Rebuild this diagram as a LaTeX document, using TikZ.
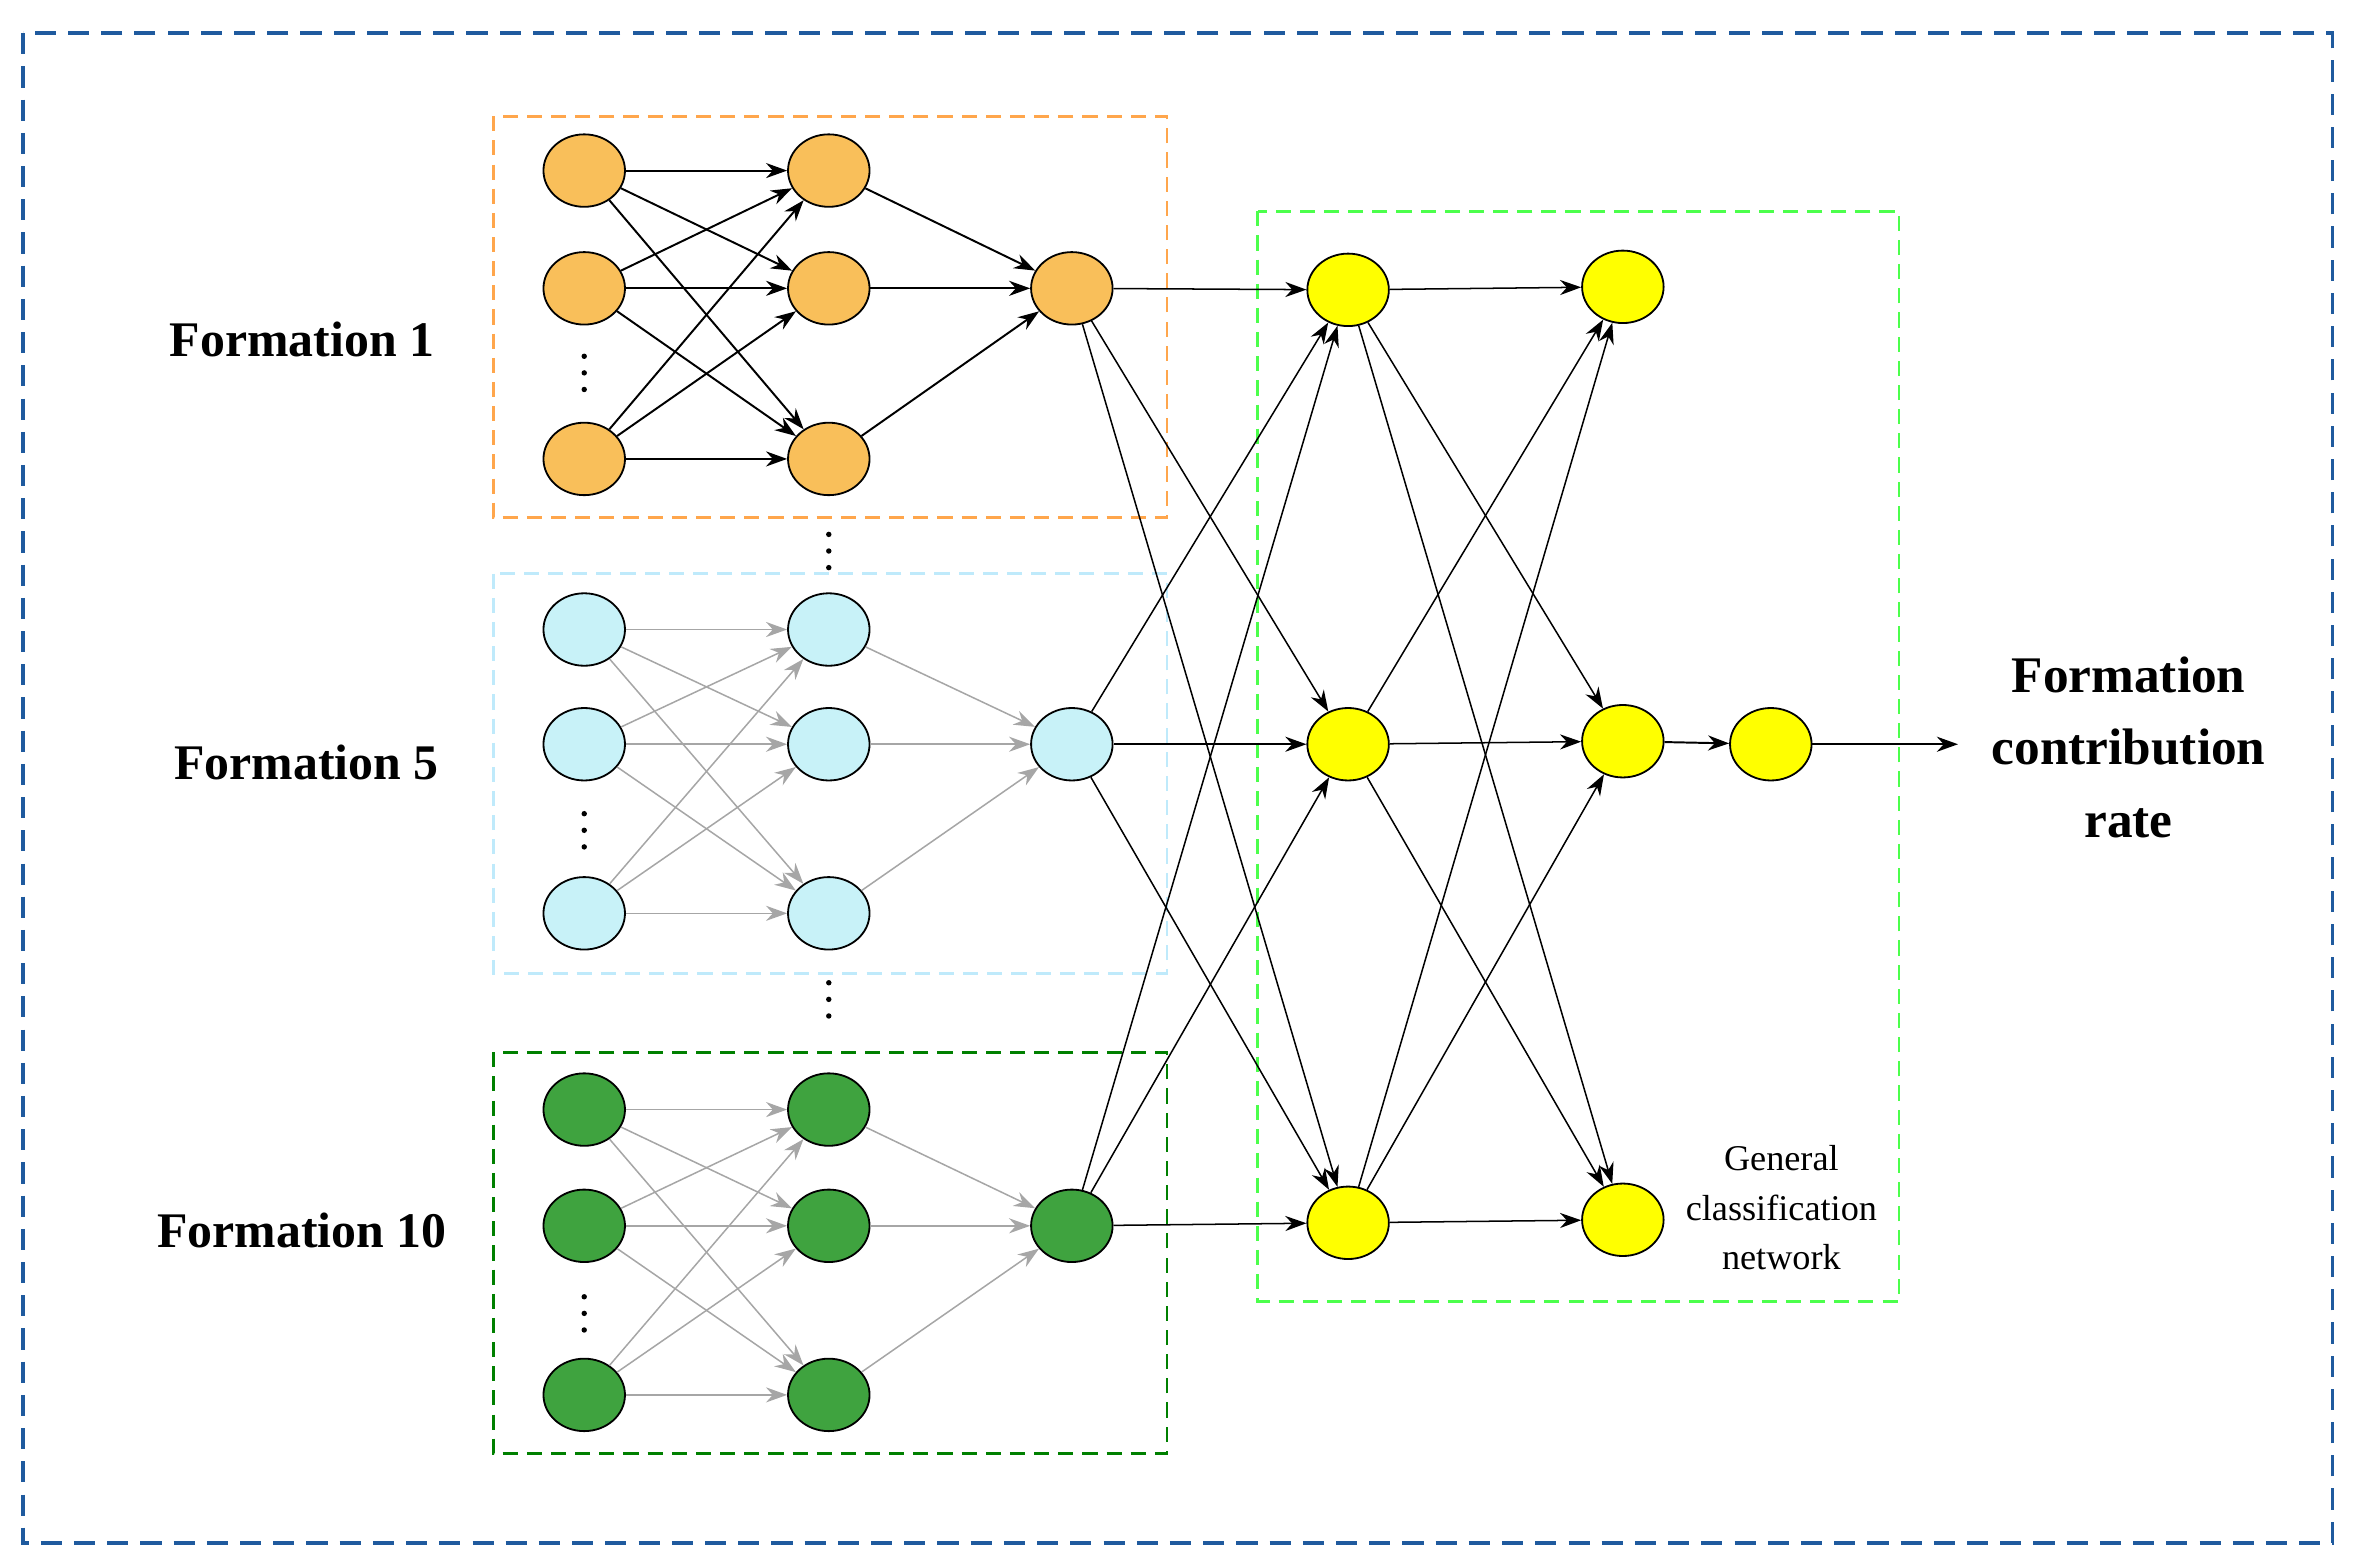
\documentclass[tikz,border=0pt]{standalone}
\usepackage{fontspec}
\setmainfont{Liberation Serif}
\usetikzlibrary{shapes.geometric,arrows.meta}
\definecolor{org}{HTML}{F9BF5A}\definecolor{cya}{HTML}{C8F2F8}
\definecolor{grn}{HTML}{3FA33F}\definecolor{yel}{HTML}{FFFF00}
\definecolor{frame}{HTML}{1F5A9E}
\begin{document}
\begin{tikzpicture}[x=1pt,y=-1pt,
 nd/.style={ellipse,draw=black,line width=1.2pt,minimum width=54pt,minimum height=48pt,inner sep=0pt},
 bk/.style={-{Stealth[length=14pt,width=10pt]},line width=1.3pt},
 gr/.style={-{Stealth[length=14pt,width=10pt]},draw=gray!70,line width=1pt},
 lbl/.style={font=\fontsize{33}{36}\selectfont\bfseries}]
\useasboundingbox (0,0) rectangle (1560,1035);
\draw[draw=frame,line width=2.5pt,dash pattern=on 14pt off 8pt] (15,22) rectangle (1545,1022);
\draw[draw=orange!70,line width=1.8pt,dash pattern=on 10pt off 6pt] (327,77) rectangle (773,343);
\draw[draw=cyan!25,line width=1.8pt,dash pattern=on 10pt off 6pt] (327,380) rectangle (773,645);
\draw[draw=green!50!black,line width=1.8pt,dash pattern=on 10pt off 6pt] (327,697) rectangle (773,963);
\draw[draw=green!70,line width=1.8pt,dash pattern=on 10pt off 6pt] (833,140) rectangle (1258,862);
\foreach \f/\c/\ya/\yb/\yc/\s in {a/org/113/191/304/bk, b/cya/417/493/605/gr, c/grn/735/812/924/gr}{
 \foreach \i/\y in {1/\ya,2/\yb,3/\yc}{
  \node[nd,fill=\c] (\f1\i) at (387,\y) {};
  \node[nd,fill=\c] (\f2\i) at (549,\y) {};}
 \node[nd,fill=\c] (\f3) at (710,\yb) {};
 \foreach \i in {1,2,3}{\foreach \j in {1,2,3}{\draw[\s] (\f1\i) -- (\f2\j);}
  \draw[\s] (\f2\i) -- (\f3);}
}
\foreach \i/\y in {1/192,2/493,3/810}{\node[nd,fill=yel] (y\i) at (893,\y) {};}
\foreach \i/\y in {1/190,2/491,3/808}{\node[nd,fill=yel] (z\i) at (1075,\y) {};}
\node[nd,fill=yel] (out) at (1173,493) {};
\coordinate (end) at (1297,493);
\foreach \f in {a,b,c}{\foreach \j in {1,2,3}{\draw[bk,line width=1pt] (\f3) -- (y\j);}}
\foreach \i in {1,2,3}{\foreach \j in {1,2,3}{\draw[bk,line width=1pt] (y\i) -- (z\j);}}
\draw[bk] (z2) -- (out); \draw[bk] (out) -- (end);
\foreach \x/\y in {387/247,387/550,387/870,549/365,549/662}{
 \foreach \d in {-11,0,11}{\fill (\x,\y+\d) circle (1.8pt);}}
\node[lbl] at (200,225) {Formation 1};
\node[lbl] at (203,505) {Formation 5};
\node[lbl] at (200,815) {Formation 10};
\node[align=center,font=\fontsize{34}{48}\selectfont\bfseries] at (1410,495) {Formation\\contribution\\rate};
\node[align=center,font=\fontsize{24}{33}\selectfont] at (1180,800) {General\\classification\\network};
\end{tikzpicture}
\end{document}
